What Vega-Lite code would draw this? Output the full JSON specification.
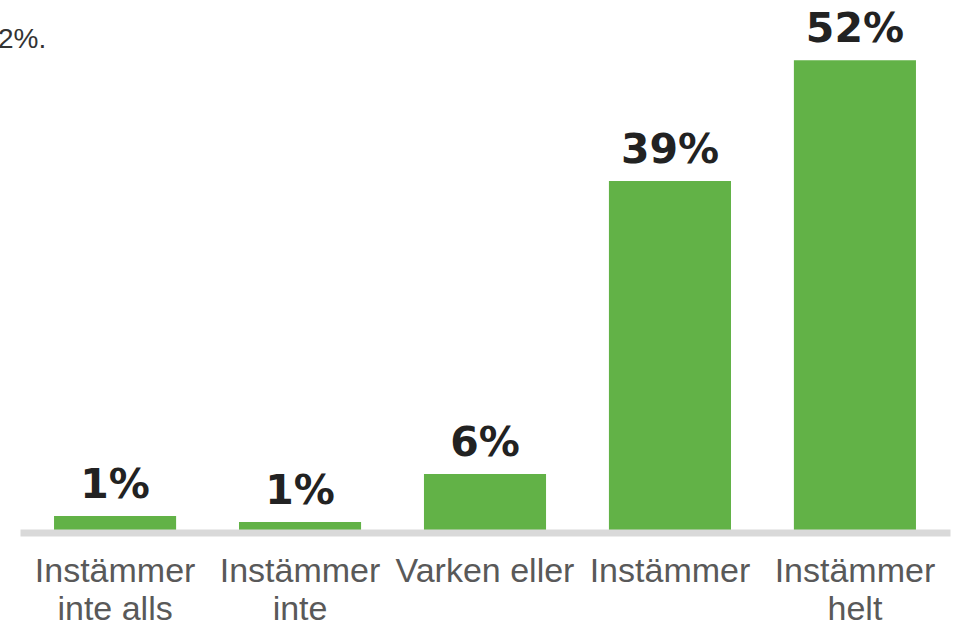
{
  "$schema": "https://vega.github.io/schema/vega-lite/v6.json",
  "width": 930,
  "height": 477.5,
  "autosize": {"type": "none"},
  "padding": {"left": 20, "top": 55, "right": 4, "bottom": 91.5},
  "title": {"text": "2%.", "anchor": "start", "dx": -22, "dy": 74, "offset": 7, "fontSize": 28, "font": "Liberation Sans", "fontWeight": "normal", "color": "#333333", "baseline": "alphabetic"},
  "config": {"view": {"stroke": null}},
  "data": {"values": [
    {"category": "Instämmer inte alls", "value": 1.83, "label": "1%"},
    {"category": "Instämmer inte", "value": 1.16, "label": "1%"},
    {"category": "Varken eller", "value": 6.48, "label": "6%"},
    {"category": "Instämmer", "value": 38.93, "label": "39%"},
    {"category": "Instämmer helt", "value": 52.3, "label": "52%"}
  ]},
  "encoding": {
    "x": {
      "field": "category", "type": "nominal", "sort": null,
      "scale": {"paddingInner": 0.34, "paddingOuter": 0.184},
      "axis": {
        "title": null, "domainColor": "#d9d9d9", "domainWidth": 7, "ticks": false,
        "labelFont": "Liberation Sans", "labelFontSize": 34, "labelColor": "#595959",
        "labelPadding": 22, "labelLineHeight": 38, "labelAngle": 0, "labelLimit": 0,
        "zindex": 1,
        "labelExpr": "(datum.value != 'Varken eller' && indexof(datum.value, ' ') > 0) ? [substring(datum.value, 0, 9), substring(datum.value, 10)] : datum.value"
      }
    },
    "y": {"field": "value", "type": "quantitative", "scale": {"domain": [0, 52.88]}, "axis": null}
  },
  "layer": [
    {"mark": {"type": "bar", "color": "#62b247"}},
    {"mark": {"type": "text", "dy": -18, "baseline": "alphabetic", "align": "center", "font": "DejaVu Sans", "fontWeight": "bold", "fontSize": 41, "color": "#222222"},
     "encoding": {"text": {"field": "label"}}}
  ]
}
